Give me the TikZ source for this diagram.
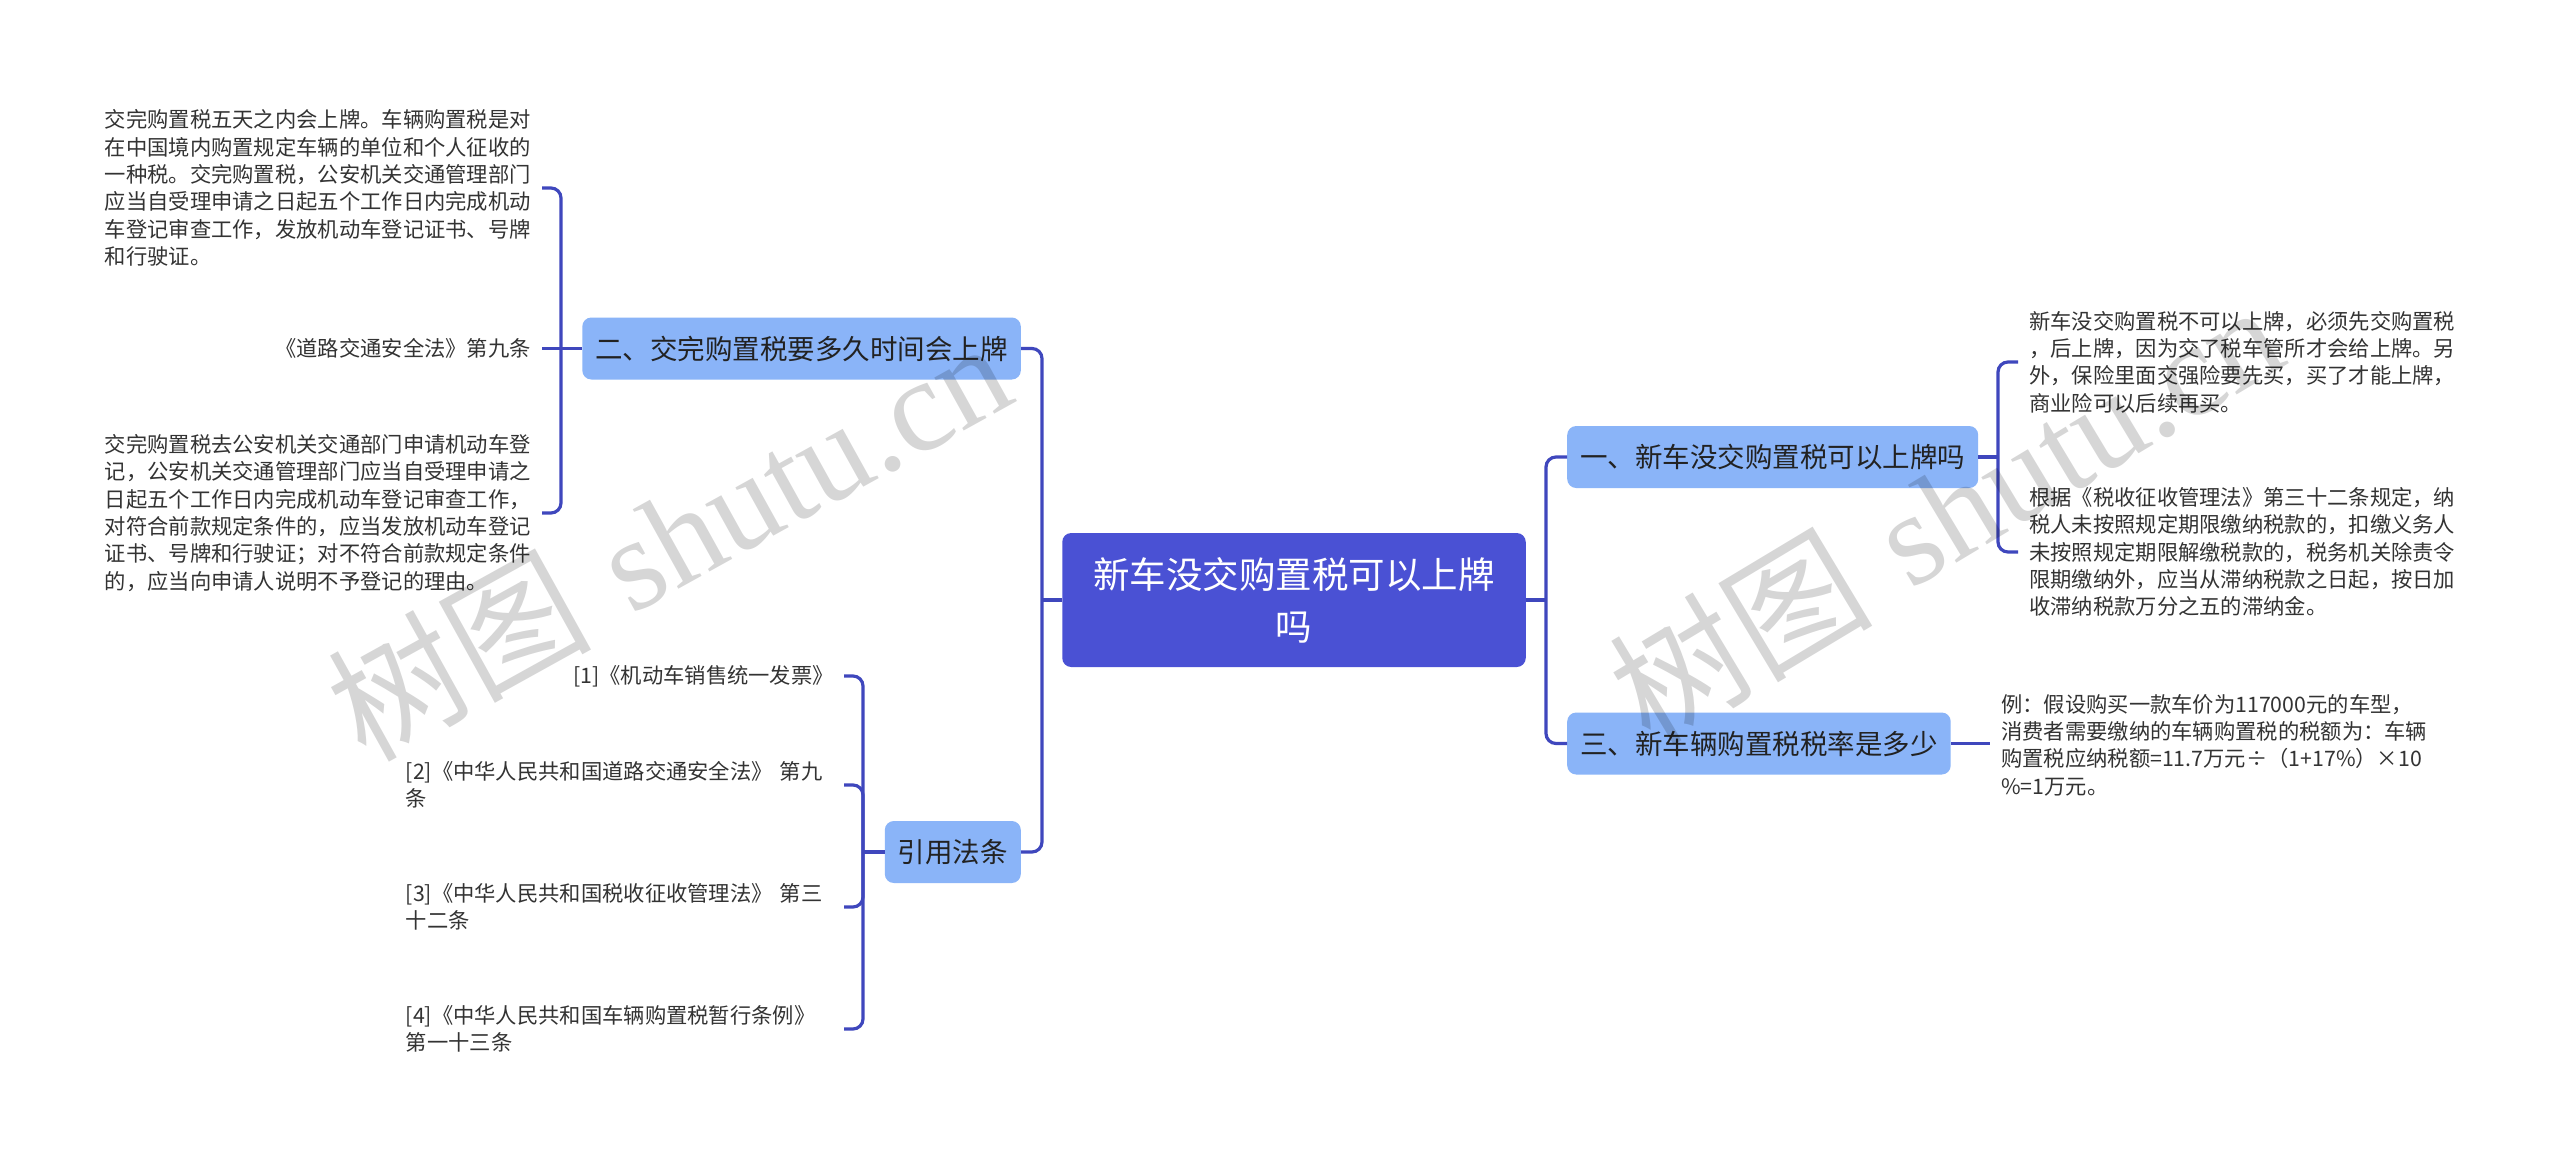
\documentclass[tikz,border=0pt]{standalone}
\usepackage{fontspec}
\newfontfamily\cjk{Noto Sans CJK SC}
\newfontfamily\wmserif{Liberation Serif}
\definecolor{rootblue}{HTML}{4A51D4}
\definecolor{branchblue}{HTML}{8AB4F8}
\definecolor{linkblue}{HTML}{3F47BD}
\definecolor{branchtext}{HTML}{222222}
\definecolor{leaftext}{HTML}{333333}
\begin{document}
\begin{tikzpicture}[x=1pt,y=-1pt,
  rootbox/.style={fill=rootblue, rounded corners=9pt, text=white,
    font=\cjk\fontsize{36.5}{52}\selectfont, align=center,
    inner xsep=31pt, minimum height=134pt},
  branchbox/.style={fill=branchblue, rounded corners=9pt, text=branchtext,
    font=\cjk\fontsize{27.5}{33}\selectfont, inner xsep=13pt, minimum height=62pt},
  leaf/.style={text=leaftext, font=\cjk\fontsize{21.3}{27.3}\selectfont,
    align=left, inner xsep=11pt, inner ysep=2pt},
  link/.style={draw=linkblue, line width=3.2pt, rounded corners=10pt},
  wm/.style={text=black, text opacity=0.16, inner sep=0pt,
    font=\fontsize{132}{132}\selectfont}]
\useasboundingbox (0,0) rectangle (2560,1159);
\fill[white] (0,0) rectangle (2560,1159);

% root and branches
\node[rootbox] (root) at (1294,600) {新车没交购置税可以上牌\\吗};
\node[branchbox, anchor=east] (b2) at (1021,348.5) {二、交完购置税要多久时间会上牌};
\node[branchbox, anchor=east] (b4) at (1021,852) {引用法条};
\node[branchbox, anchor=west] (b1) at (1567,457) {一、新车没交购置税可以上牌吗};
\node[branchbox, anchor=west] (b3) at (1567,743.5) {三、新车辆购置税税率是多少};

% leaves of 二
\node[leaf, anchor=east] (l21) at (542,188) {交完购置税五天之内会上牌。车辆购置税是对\\在中国境内购置规定车辆的单位和个人征收的\\一种税。交完购置税，公安机关交通管理部门\\应当自受理申请之日起五个工作日内完成机动\\车登记审查工作，发放机动车登记证书、号牌\\和行驶证。};
\node[leaf, anchor=east] (l22) at (542,348.5) {《道路交通安全法》第九条};
\node[leaf, anchor=east] (l23) at (542,513) {交完购置税去公安机关交通部门申请机动车登\\记，公安机关交通管理部门应当自受理申请之\\日起五个工作日内完成机动车登记审查工作，\\对符合前款规定条件的，应当发放机动车登记\\证书、号牌和行驶证；对不符合前款规定条件\\的，应当向申请人说明不予登记的理由。};

% leaves of 引用法条
\node[leaf, anchor=east, inner xsep=10pt] (c1) at (844,676) {[1]《机动车销售统一发票》};
\node[leaf, anchor=east, inner xsep=10pt, text width=428pt] (c2) at (844,785) {[2]《中华人民共和国道路交通安全法》 第九\\条};
\node[leaf, anchor=east, inner xsep=10pt, text width=428pt] (c3) at (844,907) {[3]《中华人民共和国税收征收管理法》 第三\\十二条};
\node[leaf, anchor=east, inner xsep=10pt, text width=428pt] (c4) at (844,1029) {[4]《中华人民共和国车辆购置税暂行条例》\\第一十三条};

% leaves of 一
\node[leaf, anchor=west] (r11) at (2018,362) {新车没交购置税不可以上牌，必须先交购置税\\，后上牌，因为交了税车管所才会给上牌。另\\外，保险里面交强险要先买，买了才能上牌，\\商业险可以后续再买。};
\node[leaf, anchor=west] (r12) at (2018,552) {根据《税收征收管理法》第三十二条规定，纳\\税人未按照规定期限缴纳税款的，扣缴义务人\\未按照规定期限解缴税款的，税务机关除责令\\限期缴纳外，应当从滞纳税款之日起，按日加\\收滞纳税款万分之五的滞纳金。};

% leaf of 三
\node[leaf, anchor=west] (r31) at (1990,745) {例：假设购买一款车价为117000元的车型，\\消费者需要缴纳的车辆购置税的税额为：车辆\\购置税应纳税额=11.7万元÷（1+17\%）×10\\\%=1万元。};

% connectors
\coordinate (tl) at (1042,600);
\coordinate (tr) at (1546,600);
\coordinate (k2) at (561,348.5);
\coordinate (k4) at (863,852);
\coordinate (k1) at (1998,457);

\draw[link] (root.west) -- (tl);
\draw[link] (b2.east) -| (tl) |- (b4.east);
\draw[link] (root.east) -- (tr);
\draw[link] (b1.west) -| (tr) |- (b3.west);

\draw[link] (l21.east) -| (k2) |- (l23.east);
\draw[link] (l22.east) -- (b2.west);

\draw[link] (c1.east) -| (k4) |- (c4.east);
\draw[link] (c2.east) -| (k4);
\draw[link] (c3.east) -| (k4);
\draw[link] (b4.west) -- (k4);

\draw[link] (r11.west) -| (k1) |- (r12.west);
\draw[link] (b1.east) -- (k1);

\draw[link] (b3.east) -- (b3.east -| r31.west);

% watermarks
\node[wm, rotate=29] (wm1) at (668,538) {{\cjk 树图} {\wmserif shutu.cn}};
\node[wm, rotate=31] (wm2) at (1945,512) {{\cjk 树图} {\wmserif shutu.cn}};
\end{tikzpicture}
\end{document}
